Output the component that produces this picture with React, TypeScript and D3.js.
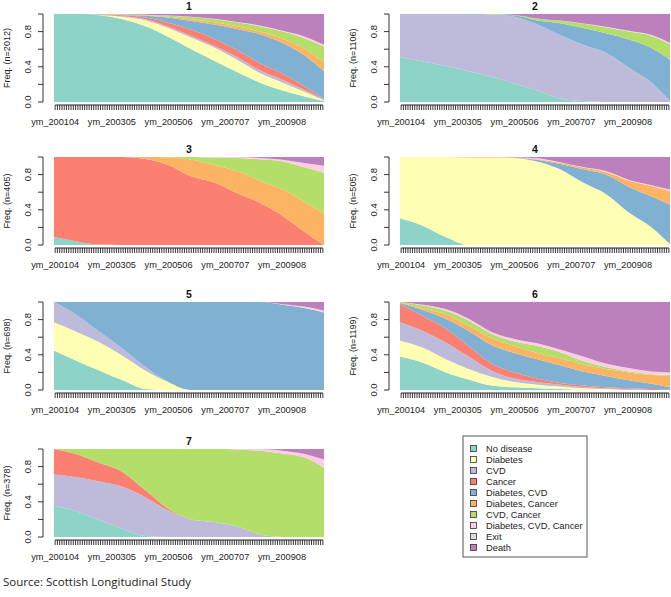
import React from "react";
import * as d3 from "d3";

const states = ["No disease", "Diabetes", "CVD", "Cancer", "Diabetes, CVD", "Diabetes, Cancer", "CVD, Cancer", "Diabetes, CVD, Cancer", "Exit", "Death"];
const stateColors = ["#8DD3C7", "#FFFFB3", "#BEBADA", "#FB8072", "#80B1D3", "#FDB462", "#B3DE69", "#FCCDE5", "#D9D9D9", "#BC80BD"];

const nMonths = 119;
const sampleMonths = [0, 10, 20, 30, 40, 50, 60, 70, 80, 90, 100, 110, 118];
const tickMonths = [0, 25, 50, 75, 100];
const tickLabels = ["ym_200104", "ym_200305", "ym_200506", "ym_200707", "ym_200908"];
const yTicks = [0, 0.2, 0.4, 0.6, 0.8, 1];
const yTickLabels = [0, 0.4, 0.8];

const clusterNames = ["1", "2", "3", "4", "5", "6", "7"];
const clusterSizes = [2012, 1106, 405, 505, 698, 1199, 378];

// shares (%) per state (rows, in legend order) at each sample month (columns)
const cluster1 = [
  [100, 100, 98.5, 94, 86, 74, 60, 47, 34, 22, 13, 6, 1],
  [0, 0, 0.5, 3, 7, 10, 13, 15, 14, 11, 9, 5, 1],
  [0, 0, 0, 0.5, 1, 1.5, 2, 2, 3, 3, 3, 2, 0.5],
  [0, 0, 0.5, 1, 2, 4.5, 7, 8, 8, 8, 7, 4, 0.5],
  [0, 0, 0.2, 0.5, 2, 6, 10, 16, 24, 33, 35, 35, 32],
  [0, 0, 0.1, 0.3, 0.5, 1, 2, 2.5, 3, 3, 5, 8, 10],
  [0, 0, 0.1, 0.3, 0.5, 1, 2.5, 3.5, 4.5, 6, 8, 12, 18],
  [0, 0, 0, 0.1, 0.2, 0.2, 0.3, 0.5, 0.5, 1, 1, 2, 2],
  [0, 0, 0, 0, 0, 0, 0, 0, 0, 0, 0, 0, 0],
  [0, 0, 0.1, 0.3, 0.8, 1.8, 3.2, 5.5, 9, 13, 19, 26, 35],
];
const cluster2 = [
  [51, 46, 41, 35, 29, 21, 13, 4, 1, 0, 0, 0, 0],
  [0, 0, 0, 0, 0, 0, 0, 0, 0, 0, 0, 0, 0],
  [49, 54, 59, 65, 70.5, 76, 75, 72, 64, 56, 39, 22, 1],
  [0, 0, 0, 0, 0, 0, 0, 0, 0, 0, 0, 0, 0],
  [0, 0, 0, 0, 0, 1.5, 4.5, 13.5, 19, 22, 32, 39, 47],
  [0, 0, 0, 0, 0, 0, 0, 0, 0, 0, 0, 0, 0],
  [0, 0, 0, 0, 0.5, 0.5, 2.5, 3, 5, 7, 9, 14, 17.5],
  [0, 0, 0, 0, 0, 0, 0, 0, 0.3, 0.5, 1, 1, 1.5],
  [0, 0, 0, 0, 0, 0, 0, 0, 0, 0, 0, 0, 0],
  [0, 0, 0, 0, 0, 1, 5, 7.5, 10.7, 14.5, 19, 24, 33],
];
const cluster3 = [
  [9, 4, 0.5, 0, 0, 0, 0, 0, 0, 0, 0, 0, 0],
  [0, 0, 0, 0, 0, 0, 0, 0, 0, 0, 0, 0, 0],
  [0, 0, 0, 0, 0, 0, 0, 0, 0, 0, 0, 0, 0],
  [91, 96, 99.5, 100, 97.7, 91, 78, 71, 59, 48, 33, 14, 0],
  [0, 0, 0, 0, 0, 0, 0, 0, 0, 0, 0, 0, 0],
  [0, 0, 0, 0, 2.3, 8.5, 19, 20, 25, 25, 30, 34, 36],
  [0, 0, 0, 0, 0, 0.5, 3, 8.5, 15, 24.5, 32, 40, 46],
  [0, 0, 0, 0, 0, 0, 0, 0.5, 1, 1.5, 2, 5, 8],
  [0, 0, 0, 0, 0, 0, 0, 0, 0, 0, 0, 0, 0],
  [0, 0, 0, 0, 0, 0, 0, 0, 0, 1, 3, 7, 10],
];
const cluster4 = [
  [30.5, 22, 9, 0, 0, 0, 0, 0, 0, 0, 0, 0, 0],
  [69.5, 78, 91, 99.5, 99.5, 99, 95, 86, 71, 58, 37, 20, 1],
  [0, 0, 0, 0, 0, 0, 0, 0, 0, 0, 0, 0, 0],
  [0, 0, 0, 0, 0, 0, 0, 0, 0, 0, 0, 0, 0],
  [0, 0, 0, 0, 0, 0, 2, 6, 15, 22, 29, 35, 45],
  [0, 0, 0, 0.5, 0.5, 0.5, 0.5, 1.5, 2, 3, 7, 12, 15],
  [0, 0, 0, 0, 0, 0, 0, 0, 0, 0, 0, 0, 0],
  [0, 0, 0, 0, 0, 0, 1, 0.5, 0.5, 1, 1, 1, 2],
  [0, 0, 0, 0, 0, 0, 0, 0, 0, 0, 0, 0, 0],
  [0, 0, 0, 0, 0, 0.5, 1.5, 6, 11.5, 16, 26, 32, 37],
];
const cluster5 = [
  [45, 33, 22, 11, 1, 0, 0, 0, 0, 0, 0, 0, 0],
  [32, 33, 32, 28, 21, 9, 0, 0, 0, 0, 0, 0, 0],
  [23, 19, 12, 8, 4, 0, 0, 0, 0, 0, 0, 0, 0],
  [0, 0, 0, 0, 0, 0, 0, 0, 0, 0, 0, 0, 0],
  [0, 15, 34, 53, 74, 91, 100, 100, 100, 100, 97, 93, 88],
  [0, 0, 0, 0, 0, 0, 0, 0, 0, 0, 0, 0, 0],
  [0, 0, 0, 0, 0, 0, 0, 0, 0, 0, 0, 0, 0],
  [0, 0, 0, 0, 0, 0, 0, 0, 0, 0, 0.5, 1.5, 2],
  [0, 0, 0, 0, 0, 0, 0, 0, 0, 0, 0, 0, 0],
  [0, 0, 0, 0, 0, 0, 0, 0, 0, 0, 2.5, 5.5, 10],
];
const cluster6 = [
  [38, 31, 20, 12, 5, 3, 2, 1, 0, 0, 0, 0, 0],
  [18, 17, 15, 12, 10, 6, 4, 3, 2, 1, 0, 0, 0],
  [21, 19, 19, 14, 7, 4, 3, 2, 1.5, 1, 1, 0, 0],
  [21, 17, 16, 12, 8, 7, 4, 2, 1.5, 1, 1, 1, 0.5],
  [1, 7, 11, 17, 21, 22, 22, 20, 16, 13, 9, 6, 2.5],
  [0.5, 2, 5, 6, 8, 8, 7, 8, 8, 8, 9, 10, 13],
  [0.5, 3, 4, 6, 5, 5, 8, 7, 4, 2, 1, 1, 1],
  [0, 1, 2, 2, 2, 3, 3, 3, 5, 4, 4, 3, 3],
  [0, 0, 0, 0, 0, 0, 0, 0, 0, 0, 0, 0, 0],
  [0, 3, 8, 19, 34, 42, 47, 54, 62, 70, 75, 79, 80],
];
const cluster7 = [
  [35.5, 29, 19, 9.5, 1, 0, 0, 0, 0, 0, 0, 0, 0],
  [0, 0, 0, 0, 0, 0, 0, 0, 0, 0, 0, 0, 0],
  [35.5, 39, 44, 47.5, 44, 30, 20, 17, 12, 3, 0, 0, 0],
  [29, 26, 21, 17, 8, 2, 0, 0, 0, 0, 0, 0, 0],
  [0, 0, 0, 0, 0, 0, 0, 0, 0, 0, 0, 0, 0],
  [0, 0, 0, 0, 0, 0, 0, 0, 0, 0, 0, 0, 0],
  [0, 6, 16, 26, 47, 68, 80, 83, 87.5, 95, 95, 90, 79],
  [0, 0, 0, 0, 0, 0, 0, 0, 0.5, 2, 3, 4, 9],
  [0, 0, 0, 0, 0, 0, 0, 0, 0, 0, 0, 0, 0],
  [0, 0, 0, 0, 0, 0, 0, 0, 0, 0, 2, 6, 12],
];
const clusters = [cluster1, cluster2, cluster3, cluster4, cluster5, cluster6, cluster7];

const W = 671;
const H = 597;
const colLeft = [54, 400];
const plotW = 270;
const rowTop = [14, 157, 302, 449];
const plotH = 88;
const font = "'Liberation Sans', Arial, sans-serif";

function Panel({ idx }: { idx: number }) {
  const col = idx % 2;
  const row = Math.floor(idx / 2);
  const left = colLeft[col];
  const top = rowTop[row];
  const right = left + plotW;
  const bottom = top + plotH;
  const data = clusters[idx];

  const xArea = d3.scaleLinear().domain([0, nMonths - 1]).range([left, right]);
  const xTick = d3.scaleLinear().domain([0, nMonths]).range([left, right]);
  const y = d3.scaleLinear().domain([0, 1]).range([bottom, top]);

  const rows = sampleMonths.map((m, j) => {
    const o: any = { m };
    states.forEach((s, k) => (o[s] = data[k][j] / 100));
    return o;
  });
  const stack = d3.stack<any>().keys(states).order(d3.stackOrderNone).offset(d3.stackOffsetExpand);
  const series = stack(rows);
  const area = d3
    .area<any>()
    .x((d) => xArea(d.data.m === sampleMonths[sampleMonths.length - 1] ? nMonths - 1 : d.data.m))
    .y0((d) => y(d[0]))
    .y1((d) => y(d[1]))
    .curve(d3.curveMonotoneX);

  const axisX = left - 11;
  const allTicks = d3.range(nMonths);
  const tickTop = bottom + 3;
  const tickBot = bottom + 8;

  return (
    <g>
      {series.map((s, k) => (
        <path key={k} d={area(s) || ""} fill={stateColors[k]} stroke="none" />
      ))}
      <text x={(left + right) / 2} y={top - 4} textAnchor="middle" fontFamily={font} fontWeight="bold" fontSize={10.5} fill="#111">
        {clusterNames[idx]}
      </text>
      <line x1={axisX} x2={axisX} y1={y(0)} y2={y(1)} stroke="#333" strokeWidth={1} />
      {yTicks.map((t) => (
        <line key={t} x1={axisX - 5} x2={axisX} y1={y(t)} y2={y(t)} stroke="#333" strokeWidth={1} />
      ))}
      {yTickLabels.map((t) => (
        <text key={t} transform={`translate(${axisX - 12},${y(t)}) rotate(-90)`} textAnchor="middle" fontFamily={font} fontSize={9.5} fill="#222">
          {t.toFixed(1)}
        </text>
      ))}
      <text transform={`translate(${axisX - 33},${(top + bottom) / 2}) rotate(-90)`} textAnchor="middle" fontFamily={font} fontSize={9} fill="#222">
        {`Freq. (n=${clusterSizes[idx]})`}
      </text>
      <line x1={xTick(0.5)} x2={xTick(nMonths - 0.5)} y1={tickTop} y2={tickTop} stroke="#222" strokeWidth={1} />
      {allTicks.map((i) => (
        <line key={i} x1={xTick(i + 0.5)} x2={xTick(i + 0.5)} y1={tickTop} y2={tickBot} stroke="#222" strokeWidth={0.9} />
      ))}
      {tickMonths.map((m, i) => (
        <text key={m} x={xTick(m + 0.5)} y={bottom + 23} textAnchor="middle" fontFamily={font} fontSize={9.2} fill="#222">
          {tickLabels[i]}
        </text>
      ))}
    </g>
  );
}

function Legend() {
  const bx = 463;
  const by = 436;
  const bw = 124;
  const bh = 121;
  const y0 = 448.5;
  const step = 11;
  return (
    <g>
      <rect x={bx} y={by} width={bw} height={bh} fill="white" stroke="#555" strokeWidth={1} />
      {states.map((s, i) => (
        <g key={s}>
          <rect x={470.5} y={y0 + i * step - 3} width={6} height={6} fill={stateColors[i]} stroke="#333" strokeWidth={0.8} />
          <text x={486} y={y0 + i * step + 3.5} fontFamily={font} fontSize={9.3} fill="#222">
            {s}
          </text>
        </g>
      ))}
    </g>
  );
}

export default function App() {
  return (
    <svg width={W} height={H} style={{ position: "absolute", left: 0, top: 0, background: "white" }}>
      <rect x={0} y={0} width={W} height={H} fill="white" />
      {clusters.map((_, i) => (
        <Panel key={i} idx={i} />
      ))}
      <Legend />
      <text x={3} y={586} fontFamily="'Open Sans', Calibri, sans-serif" fontSize={11.5} fill="#222">
        Source: Scottish Longitudinal Study
      </text>
    </svg>
  );
}
